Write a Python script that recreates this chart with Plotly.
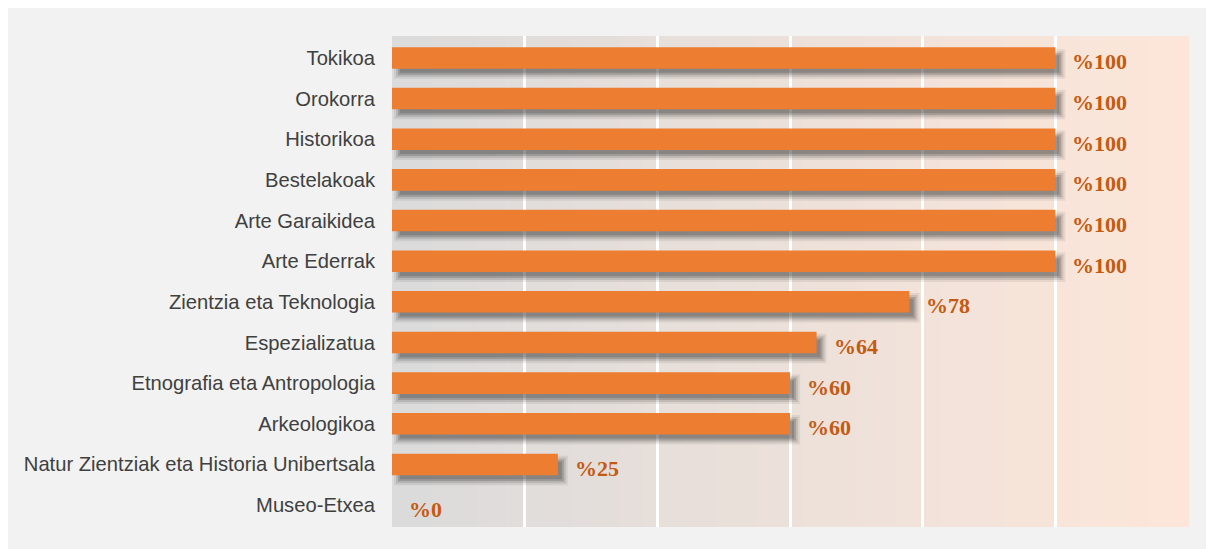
import plotly.graph_objects as go

categories = ["Tokikoa", "Orokorra", "Historikoa", "Bestelakoak", "Arte Garaikidea",
              "Arte Ederrak", "Zientzia eta Teknologia", "Espezializatua",
              "Etnografia eta Antropologia", "Arkeologikoa",
              "Natur Zientziak eta Historia Unibertsala", "Museo-Etxea"]
values = [100, 100, 100, 100, 100, 100, 78, 64, 60, 60, 25, 0]
value_labels = ["%" + str(v) for v in values]
x_ticks = [0, 20, 40, 60, 80, 100]

W, H = 1214, 549
ML, MR, MT, MB = 384, 34, 28, 30
XMAX = 120
YPAD = 0.54
px_x = (W - ML - MR) / XMAX
px_y = (H - MT - MB) / (len(categories) - 1 + 2 * YPAD)

BAR_W = 0.53
fig = go.Figure()

# shadow layers (blurred drop shadow approximation)
for grow, alpha in [(4, 0.08), (2, 0.13), (0, 0.2), (-2, 0.2)]:
    dx, dy = 6, 6
    base = (dx - grow) / px_x
    lengths = [(v + (2 * grow) / px_x) if v > 0 else 0 for v in values]
    w = BAR_W + 2 * grow / px_y
    off = -BAR_W / 2 + dy / px_y - grow / px_y
    fig.add_trace(go.Bar(
        y=categories, x=lengths, base=base, orientation="h",
        width=w, offset=off,
        marker=dict(color=f"rgba(40,40,40,{alpha})", line=dict(width=0)),
        hoverinfo="skip", showlegend=False))

fig.add_trace(go.Bar(
    y=categories, x=values, orientation="h", width=BAR_W,
    marker=dict(color="#ed7d31", line=dict(width=0)),
    showlegend=False))

for c, v, t in zip(categories, values, value_labels):
    fig.add_annotation(x=v, y=c, text=t, showarrow=False, xanchor="left",
                       xshift=15, yshift=-4,
                       font=dict(family="Liberation Serif", size=22, color="#c55a11",
                                 weight="bold"))

# gradient stripes in the plot area
shapes = []
c0 = (0xdb, 0xdb, 0xdb)
c1 = (0xfd, 0xe6, 0xd9)
N = 120
for i in range(N):
    t = i / (N - 1)
    col = tuple(round(a + (b - a) * t) for a, b in zip(c0, c1))
    shapes.append(dict(type="rect", xref="x domain", yref="y domain",
                       x0=i / N, x1=(i + 1.2) / N, y0=0, y1=1,
                       fillcolor="rgb(%d,%d,%d)" % col, line=dict(width=0),
                       layer="below"))

fig.update_layout(
    width=W, height=H,
    margin=dict(l=ML, r=MR, t=MT, b=MB),
    paper_bgcolor="#f2f2f2", plot_bgcolor="#e0dcda",
    barmode="overlay",
    shapes=shapes,
    xaxis=dict(range=[0, XMAX], tickvals=x_ticks, showticklabels=False,
               showgrid=True, gridcolor="white", gridwidth=2.5,
               zeroline=False, showline=False, fixedrange=True),
    yaxis=dict(range=[len(categories) - 1 + YPAD, -YPAD], showgrid=False,
               zeroline=False, ticks="", ticklabelstandoff=16,
               tickfont=dict(family="Liberation Sans", size=20.2, color="#404040")),
)

fig.write_html("out.html")
